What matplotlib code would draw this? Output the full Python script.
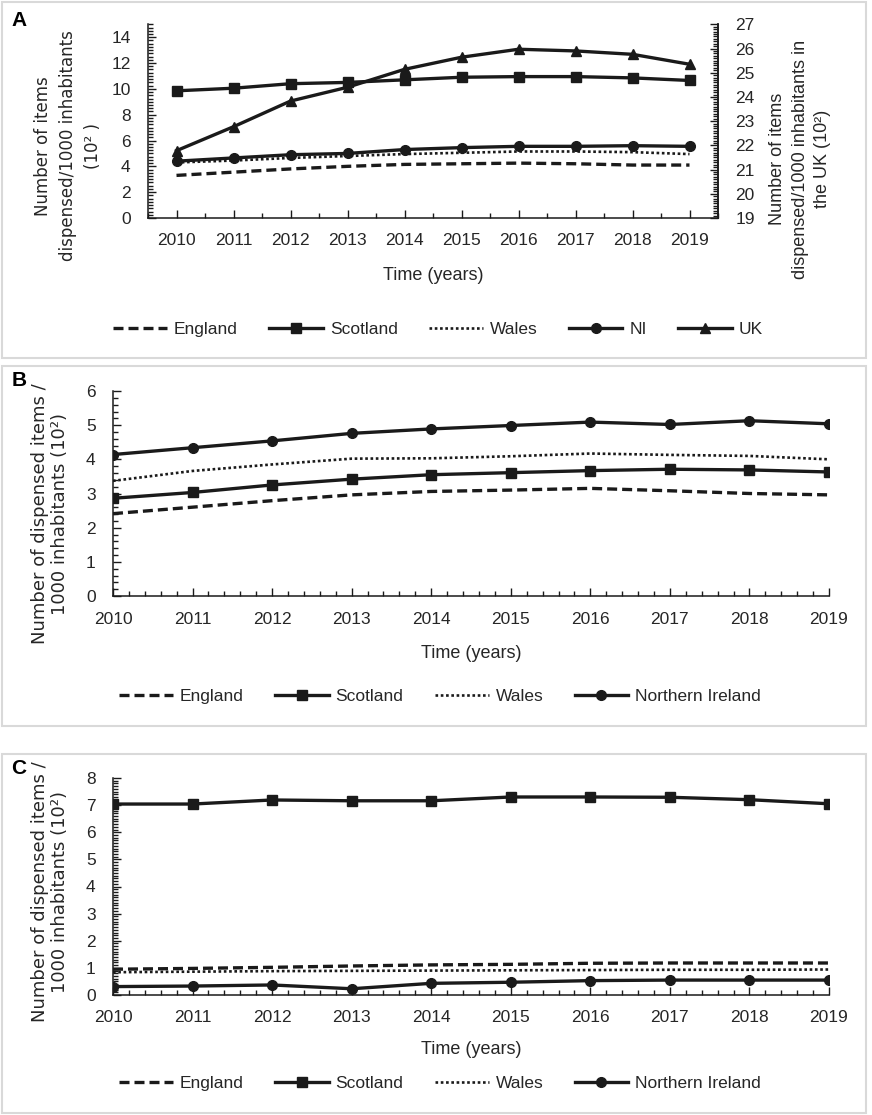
import matplotlib.pyplot as plt
from matplotlib.patches import Rectangle
from matplotlib.ticker import MultipleLocator

years = ['2010', '2011', '2012', '2013', '2014', '2015', '2016', '2017', '2018', '2019']

# Panel A - items dispensed per 1000 inhabitants (10^2), UK on the right axis
a_england = [3.3, 3.55, 3.8, 4.0, 4.15, 4.2, 4.25, 4.2, 4.1, 4.1]
a_scotland = [9.85, 10.05, 10.4, 10.5, 10.7, 10.9, 10.95, 10.95, 10.85, 10.65]
a_wales = [4.3, 4.45, 4.65, 4.8, 4.95, 5.05, 5.15, 5.15, 5.1, 4.95]
a_ni = [4.4, 4.65, 4.9, 5.0, 5.3, 5.45, 5.55, 5.55, 5.6, 5.55]
a_uk = [21.78, 22.77, 23.83, 24.4, 25.14, 25.64, 25.97, 25.9, 25.76, 25.35]

# Panel B
b_england = [2.41, 2.6, 2.79, 2.96, 3.06, 3.1, 3.15, 3.08, 3.0, 2.96]
b_scotland = [2.86, 3.03, 3.25, 3.42, 3.55, 3.61, 3.67, 3.71, 3.69, 3.63]
b_wales = [3.37, 3.66, 3.85, 4.02, 4.03, 4.09, 4.17, 4.13, 4.1, 4.0]
b_ni = [4.14, 4.34, 4.54, 4.76, 4.89, 4.99, 5.09, 5.02, 5.13, 5.04]

# Panel C
c_england = [0.95, 0.98, 1.02, 1.07, 1.11, 1.13, 1.17, 1.18, 1.18, 1.18]
c_scotland = [7.04, 7.04, 7.19, 7.16, 7.16, 7.3, 7.3, 7.29, 7.2, 7.05]
c_wales = [0.84, 0.86, 0.88, 0.89, 0.9, 0.91, 0.92, 0.93, 0.93, 0.94]
c_ni = [0.31, 0.33, 0.37, 0.23, 0.43, 0.47, 0.53, 0.55, 0.55, 0.55]

W, H = 872, 1115
INK = '#1a1a1a'
TXT = '#262626'
SANS = ['Liberation Sans', 'Arial', 'DejaVu Sans']
WIDE = ['DejaVu Sans']

plt.rcParams['font.family'] = SANS
plt.rcParams['text.color'] = TXT
plt.rcParams['axes.labelcolor'] = TXT
plt.rcParams['xtick.color'] = INK
plt.rcParams['ytick.color'] = INK
plt.rcParams['xtick.labelcolor'] = TXT
plt.rcParams['ytick.labelcolor'] = TXT

styles = {
    'England': dict(color=INK, lw=2.4, dashes=(3.0, 1.5), dash_capstyle='butt'),
    'Scotland': dict(color=INK, lw=2.4, marker='s', ms=6.5),
    'Wales': dict(color=INK, lw=1.9, dashes=(1.0, 1.0)),
    'NI': dict(color=INK, lw=2.4, marker='o', ms=7),
    'UK': dict(color=INK, lw=2.4, marker='^', ms=7),
}


def fx(px):
    return px / W


def fy(py):
    return 1 - py / H


def axes_px(left, top, right, bottom):
    return fig.add_axes([fx(left), fy(bottom), (right - left) / W, (bottom - top) / H])


def panel_box(top, bottom):
    fig.patches.append(Rectangle((fx(1.5), fy(bottom)), fx(864), (bottom - top) / H,
                                 transform=fig.transFigure, fill=False,
                                 edgecolor='#d9d9d9', lw=1.5))


def style_axis(ax, pad_x):
    for side in ['left', 'bottom', 'right', 'top']:
        ax.spines[side].set_color(INK)
        ax.spines[side].set_linewidth(1.1)
    ax.spines['top'].set_visible(False)
    ax.spines['right'].set_visible(False)
    ax.tick_params(axis='both', which='both', direction='in', width=1.0, labelsize=12.5)
    ax.tick_params(axis='both', which='major', length=5.5)
    ax.tick_params(axis='both', which='minor', length=3.5)
    ax.tick_params(axis='x', pad=pad_x)
    ax.tick_params(axis='y', pad=12.5)


def put_xlabel(ax, py, px_center):
    ax.set_xlabel('Time (years)', fontsize=13)
    ax.xaxis.set_label_coords(fx(px_center), fy(py), transform=fig.transFigure)
    ax.xaxis.label.set_va('center')


def put_ylabel(axis, text, px, py, family, size, spacing):
    axis.set_label_text(text, fontsize=size, family=family, linespacing=spacing)
    axis.set_label_coords(fx(px), fy(py), transform=fig.transFigure)
    axis.label.set_va('center')
    axis.label.set_ha('center')


def put_legend(ax, handles, labels, py, px_center):
    ax.legend(handles, labels, loc='center', bbox_to_anchor=(fx(px_center), fy(py)),
              bbox_transform=fig.transFigure, ncol=len(handles), frameon=False,
              fontsize=12.5, handlelength=3.1, handletextpad=0.4, columnspacing=1.8)


fig = plt.figure(figsize=(W / 100, H / 100), dpi=100)
x = list(range(len(years)))

# ---------------- Panel A ----------------
panel_box(1.5, 358)
ax = axes_px(148, 24.3, 718, 218)
lines = []
for name, vals in [('England', a_england), ('Scotland', a_scotland),
                   ('Wales', a_wales), ('NI', a_ni)]:
    ln, = ax.plot(x, vals, label=name, **styles[name])
    lines.append(ln)
ax.set_xlim(-0.5, len(years) - 0.5)
ax.set_ylim(0, 15)
ax.yaxis.set_major_locator(MultipleLocator(2))
ax.yaxis.set_minor_locator(MultipleLocator(0.25))
ax.set_xticks(x, years)
ax.xaxis.set_minor_locator(MultipleLocator(0.5))
style_axis(ax, 10.5)
ax.spines['right'].set_visible(True)
put_xlabel(ax, 275, 433)
put_ylabel(ax.yaxis, 'Number of items\ndispensed/1000 inhabitants\n(10² )', 68, 146, WIDE, 12, 1.5)

ax2 = ax.twinx()
ln, = ax2.plot(x, a_uk, label='UK', **styles['UK'])
lines.append(ln)
ax2.set_ylim(19, 27)
ax2.yaxis.set_major_locator(MultipleLocator(1))
ax2.yaxis.set_minor_locator(MultipleLocator(0.1))
style_axis(ax2, 10.5)
ax2.spines['left'].set_visible(False)
ax2.spines['bottom'].set_visible(False)
ax2.spines['right'].set_visible(True)
put_ylabel(ax2.yaxis, 'Number of items\ndispensed/1000 inhabitants in\nthe UK (10²)', 800, 159, SANS, 13, 1.45)
ax2.yaxis.label.set_rotation(90)
put_legend(ax2, lines, ['England', 'Scotland', 'Wales', 'NI', 'UK'], 329, 438)

ax.text(fx(19), fy(20), 'A', transform=fig.transFigure, fontsize=15,
        fontweight='bold', ha='center', va='center', color='black')

# ---------------- Panels B and C ----------------
for top, bottom, ax_top, ax_bot, ymax, minor, data, letter, lab_y, tick_y, time_y, leg_y, pad in [
    (366, 726, 391, 596, 6, 0.2, (b_england, b_scotland, b_wales, b_ni), 'B', 514, 622, 653, 696, 11.5),
    (754, 1113, 778, 995, 8, 0.1, (c_england, c_scotland, c_wales, c_ni), 'C', 892, 1020, 1050, 1083, 11),
]:
    panel_box(top, bottom)
    ax = axes_px(113, ax_top, 829, ax_bot)
    lines = []
    for name, vals in zip(['England', 'Scotland', 'Wales', 'NI'], data):
        ln, = ax.plot(x, vals, **styles[name])
        lines.append(ln)
    ax.set_xlim(0, len(years) - 1)
    ax.set_ylim(0, ymax)
    ax.set_xticks(x, years)
    ax.xaxis.set_minor_locator(MultipleLocator(0.2))
    ax.yaxis.set_major_locator(MultipleLocator(1))
    ax.yaxis.set_minor_locator(MultipleLocator(minor))
    style_axis(ax, pad)
    put_xlabel(ax, time_y, 471)
    put_ylabel(ax.yaxis, 'Number of dispensed items /\n1000 inhabitants (10²)', 50, lab_y, WIDE, 13, 1.2)
    put_legend(ax, lines, ['England', 'Scotland', 'Wales', 'Northern Ireland'], leg_y, 440)
    ax.text(fx(19), fy(top + 14), letter, transform=fig.transFigure, fontsize=15,
            fontweight='bold', ha='center', va='center', color='black')

fig.savefig('out.png', dpi=100)
